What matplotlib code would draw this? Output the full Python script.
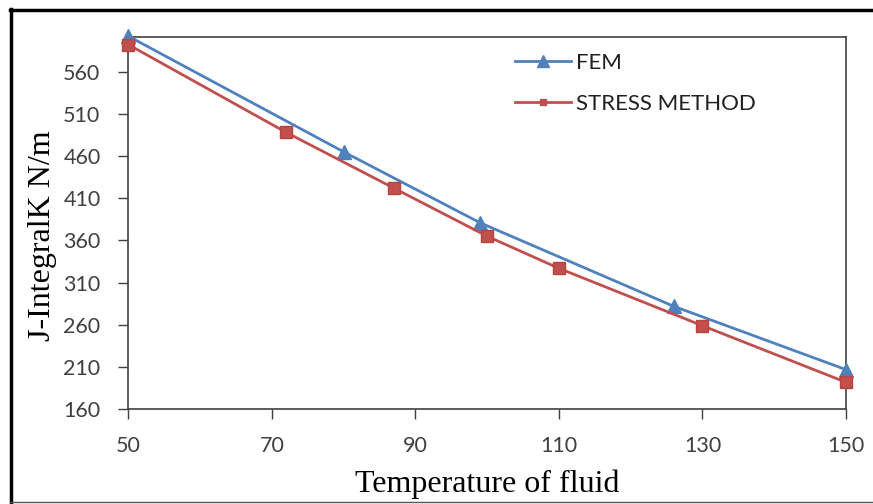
import matplotlib
matplotlib.use("Agg")
import matplotlib.pyplot as plt
from matplotlib.lines import Line2D

fem_x = [50, 80, 99, 126, 150]
fem_y = [602, 465, 381, 282, 207]
stress_x = [50, 72, 87, 100, 110, 130, 150]
stress_y = [592, 488, 422, 365, 327, 259, 192]
xticks = [50, 70, 90, 110, 130, 150]
yticks = [160, 210, 260, 310, 360, 410, 460, 510, 560]

W, H = 873, 504
fig = plt.figure(figsize=(W / 100, H / 100), dpi=100)
ax = fig.add_axes([128.3 / W, 1 - 409.3 / H, (846 - 128.3) / W, (409.3 - 37) / H])

blue = "#4F81BD"
red = "#C0504D"
ax.plot(fem_x, fem_y, color=blue, lw=2.0, marker="^", markersize=10,
        label="FEM", clip_on=False, zorder=3)
ax.plot(stress_x, stress_y, color=red, lw=2.0, marker="s", markersize=8.5,
        label="STRESS METHOD", clip_on=False, zorder=3,
        markerfacecolor=red, markeredgecolor="#B84340")

ax.set_xlim(50, 150)
ax.set_ylim(160, 601)
ax.set_xticks(xticks)
ax.set_yticks(yticks)
tick_font = {"family": "Lato", "size": 15.5}
ax.set_xticklabels([str(v) for v in xticks], fontdict=tick_font, color="#404040")
ax.set_yticklabels([str(v) for v in yticks], fontdict=tick_font, color="#404040")
ax.tick_params(direction="out", length=7, width=1, color="#404040")
ax.tick_params(axis="x", pad=12)
ax.tick_params(axis="y", pad=13)
for s in ax.spines.values():
    s.set_color("#404040")
    s.set_linewidth(1.2)

ax.set_xlabel("Temperature of fluid", family="Liberation Serif", fontsize=23, labelpad=10)
ax.set_ylabel("J-IntegralK N/m", family="Liberation Serif", fontsize=23)
ax.yaxis.set_label_coords(-0.1, 0.465)

leg_handles = [
    Line2D([0], [0], color=blue, lw=2.0, marker="^", markersize=9),
    Line2D([0], [0], color=red, lw=2.0, marker="s", markersize=5),
]
leg = ax.legend(leg_handles, ["FEM", "STRESS METHOD"], loc="upper left",
                bbox_to_anchor=((495 - 128.3) / (846 - 128.3), (409.3 - 33) / (409.3 - 37)),
                frameon=False, prop={"family": "Lato", "size": 16},
                handlelength=2.5, handletextpad=0.25, labelspacing=0.95)
for t in leg.get_texts():
    t.set_color("#202020")

# outer frame
fig.add_artist(Line2D([10 / W, 1], [1 - 9.5 / H, 1 - 9.5 / H], color="black", lw=2.5,
                      transform=fig.transFigure))
fig.add_artist(Line2D([10.5 / W, 10.5 / W], [1 - 8.5 / H, 1 - 503 / H], color="black", lw=2.5,
                      transform=fig.transFigure))
fig.add_artist(Line2D([10 / W, 1], [1 - 502 / H, 1 - 502 / H], color="#555555", lw=1,
                      transform=fig.transFigure))

fig.savefig("out.png", dpi=100)
